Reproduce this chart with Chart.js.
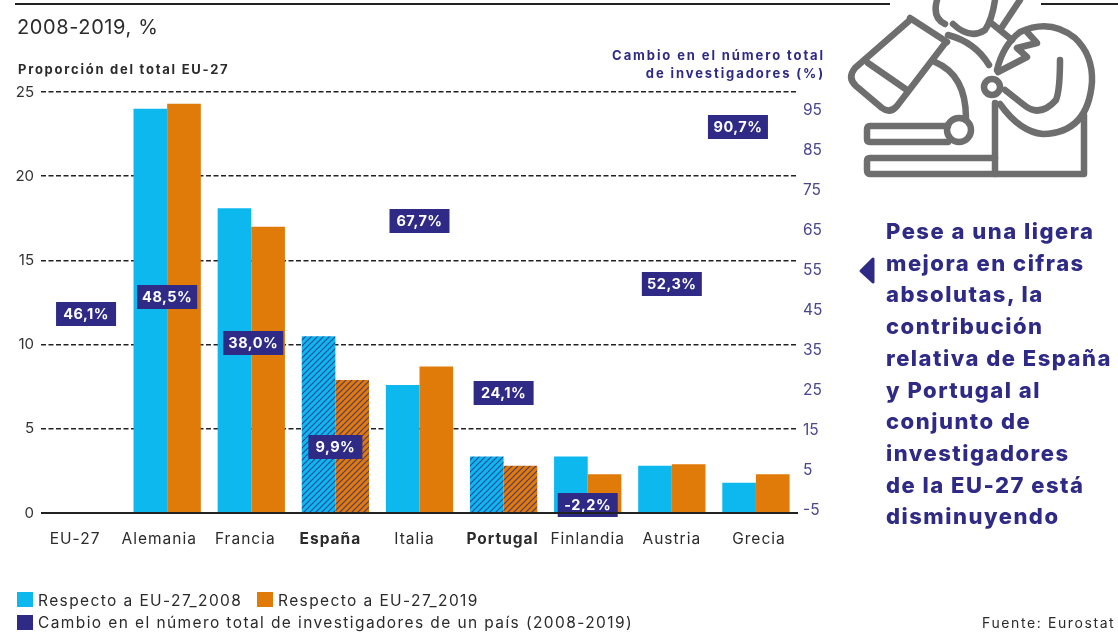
<!DOCTYPE html>
<html lang="es">
<head>
<meta charset="utf-8">
<title>Investigadores EU-27</title>
<script src="https://cdn.jsdelivr.net/npm/chart.js"></script>
<style>
  html, body { margin: 0; padding: 0; background: #fff; }
  body { width: 1118px; height: 633px; position: relative; overflow: hidden; font-family: Inter, sans-serif; color: #2b2b2b; }
  #researchChart { position: absolute; left: 0; top: 0; }
  .txt { position: absolute; white-space: nowrap; }
  .rule { position: absolute; top: 3px; height: 2px; background: #222; }
  .swatch { position: absolute; width: 16px; height: 15px; }
  .legend-txt { font-size: 15.5px; letter-spacing: 1.4px; line-height: 18px; }
  #headline { left: 886px; top: 216px; font-size: 22px; font-weight: 800; line-height: 31.7px; color: #2e2a86; letter-spacing: 1.5px; }
  #rightTitle { right: 293px; top: 46px; text-align: right; font-size: 13px; font-weight: 700; line-height: 18px; color: #2e2a86; letter-spacing: 1.9px; }
</style>
</head>
<body>
<canvas id="researchChart" width="1118" height="633"></canvas>

<div class="rule" style="left:15px;width:875px"></div>
<div class="rule" style="left:1041px;width:77px"></div>
<div class="txt" style="left:17px;top:15px;font-size:20px;letter-spacing:0.6px">2008-2019, %</div>
<div class="txt" style="left:18px;top:61px;font-size:13px;font-weight:700;letter-spacing:1.75px">Proporción del total EU-27</div>
<div class="txt" id="rightTitle">Cambio en el número total<br>de investigadores (%)</div>

<svg style="position:absolute;left:840px;top:0" width="278" height="190" viewBox="840 0 278 190" fill="none" stroke="#6e6e6e" stroke-width="6.5" stroke-linejoin="round" stroke-linecap="round">
  <path d="M910 20 L855 68 Q847 78 856 86 L882 108 Q890 114 897 106 L946 42"/>
  <path d="M868 63 L907 90"/>
  <path d="M910 18 L947 42"/>
  <path d="M937 0 Q932 18 945 24 M953 24 Q970 40 985 30 Q992 20 995 0"/>
  <path d="M990 22 L1012 40 M1000 30 L1020 0"/>
  <path d="M948 35 Q975 42 989 65"/>
  <path d="M997 70 Q1003 45 1020 32 Q1050 18 1075 38 Q1093 55 1092 82 Q1088 133 1043 134 Q1020 132 1000 104"/>
  <path d="M998 72 L1027 57 L1017 48 L1037 43 L1027 32"/>
  <path d="M1005 90 L1024 105 Q1040 118 1056 100 Q1060 90 1060 60"/>
  <circle cx="992" cy="87" r="8"/>
  <path d="M935 62 Q966 75 966 118"/>
  <circle cx="959" cy="130" r="12"/>
  <path d="M948 126 L870 126 Q867 126 867 130 L867 139 Q867 142 870 142 L948 142"/>
  <path d="M995 103 L995 174"/>
  <path d="M1084 115 L1084 174 L870 174 Q867 174 867 170 L867 161 Q867 158 870 158 L995 158"/>
</svg>

<svg style="position:absolute;left:858px;top:256px" width="20" height="30">
  <path d="M3 15 L15 3 L15 26 Z" fill="#2e2a86" stroke="#2e2a86" stroke-width="3" stroke-linejoin="round"/>
</svg>
<div class="txt" id="headline">Pese a una ligera<br>mejora en cifras<br>absolutas, la<br>contribución<br>relativa de España<br>y Portugal al<br>conjunto de<br>investigadores<br>de la EU-27 está<br>disminuyendo</div>

<div class="swatch" style="left:17px;top:592px;background:#0cb8ee"></div>
<div class="txt legend-txt" style="left:38px;top:592px">Respecto a EU-27_2008</div>
<div class="swatch" style="left:257px;top:592px;background:#e07a08"></div>
<div class="txt legend-txt" style="left:278px;top:592px">Respecto a EU-27_2019</div>
<div class="swatch" style="left:17px;top:615px;background:#2e2a86"></div>
<div class="txt legend-txt" style="left:38px;top:614px">Cambio en el número total de investigadores de un país (2008-2019)</div>
<div class="txt" style="left:982px;top:614px;font-size:14px;letter-spacing:1.6px">Fuente: Eurostat</div>

<script>
// Datos
const categories = ['EU-27', 'Alemania', 'Francia', 'España', 'Italia', 'Portugal', 'Finlandia', 'Austria', 'Grecia'];
const share2008 = [null, 24.0, 18.1, 10.5, 7.6, 3.35, 3.35, 2.8, 1.8];
const share2019 = [null, 24.3, 17.0, 7.9, 8.7, 2.8, 2.3, 2.9, 2.3];
const changeLabels = ['46,1%', '48,5%', '38,0%', '9,9%', '67,7%', '24,1%', '-2,2%', '52,3%', '90,7%'];
// height of each label on the right axis, as placed in the picture
const changeHeights = [44, 48.25, 36.75, 10.75, 67.25, 24.25, -3.75, 51.5, 90.75];
const leftTicks = [0, 5, 10, 15, 20, 25];
const rightTicks = [-5, 5, 15, 25, 35, 45, 55, 65, 75, 85, 95];
const boldCategories = ['España', 'Portugal'];

const CYAN = '#0cb8ee';
const ORANGE = '#e07a08';
const NAVY = '#2e2a86';
const FONT = 'Inter, sans-serif';

// Nudges in px, the source artwork is not aligned to its bars
const labelNudge = { 'EU-27': -8, 'Alemania': -8, 'Francia': -6, 'España': -5, 'Italia': -5, 'Portugal': -1, 'Grecia': 3 };
const boxNudge = { 'EU-27': 3, 'Francia': 2, 'Grecia': -18 };

// Diagonal hatch for the highlighted countries
function hatch(base) {
  const c = document.createElement('canvas');
  c.width = 6;
  c.height = 6;
  const p = c.getContext('2d');
  p.fillStyle = base;
  p.fillRect(0, 0, 6, 6);
  p.strokeStyle = NAVY;
  p.lineWidth = 1.2;
  p.globalAlpha = 0.8;
  p.beginPath();
  p.moveTo(-1, 1); p.lineTo(1, -1);
  p.moveTo(-1, 7); p.lineTo(7, -1);
  p.moveTo(5, 7); p.lineTo(7, 5);
  p.stroke();
  return document.createElement('canvas').getContext('2d').createPattern(c, 'repeat');
}
const cyanHatch = hatch(CYAN);
const orangeHatch = hatch(ORANGE);

function barColor(plain, hatched) {
  return ctx => boldCategories.includes(categories[ctx.dataIndex]) ? hatched : plain;
}

// Draws the navy labelled boxes at the points of the change dataset
const changeBoxes = {
  id: 'changeBoxes',
  afterDatasetsDraw(chart) {
    const { ctx } = chart;
    const points = chart.getDatasetMeta(2).data;
    ctx.save();
    ctx.font = '700 14.5px ' + FONT;
    ctx.letterSpacing = '0.5px';
    ctx.textAlign = 'center';
    ctx.textBaseline = 'middle';
    points.forEach((pt, i) => {
      const label = changeLabels[i];
      const x = pt.x + (boxNudge[categories[i]] || 0);
      const w = label.length > 4 ? 60 : 54;
      ctx.fillStyle = NAVY;
      ctx.fillRect(x - w / 2, pt.y - 12, w, 24);
      ctx.fillStyle = '#fff';
      ctx.fillText(label, x, pt.y + 0.5);
    });
    ctx.restore();
  }
};

// Category names, drawn here because each one needs its own nudge
const categoryLabels = {
  id: 'categoryLabels',
  afterDraw(chart) {
    const { ctx, scales } = chart;
    ctx.save();
    ctx.textAlign = 'center';
    ctx.textBaseline = 'middle';
    ctx.letterSpacing = '1px';
    ctx.fillStyle = '#2b2b2b';
    categories.forEach((name, i) => {
      const bold = boldCategories.includes(name);
      ctx.font = (bold ? '700 ' : '400 ') + '15.5px ' + FONT;
      ctx.fillText(name, scales.x.getPixelForTick(i) + (labelNudge[name] || 0), 539);
    });
    ctx.restore();
  }
};

// solid baseline over the dashed zero line
const baseline = {
  id: 'baseline',
  afterDatasetsDraw(chart) {
    const { ctx, chartArea, scales } = chart;
    const y = scales.y.getPixelForValue(0);
    ctx.save();
    ctx.strokeStyle = '#222';
    ctx.lineWidth = 2;
    ctx.beginPath();
    ctx.moveTo(chartArea.left, y);
    ctx.lineTo(chartArea.right, y);
    ctx.stroke();
    ctx.restore();
  }
};

new Chart(document.getElementById('researchChart'), {
  data: {
    labels: categories,
    datasets: [
      { type: 'bar', label: 'Respecto a EU-27_2008', data: share2008, yAxisID: 'y', backgroundColor: barColor(CYAN, cyanHatch) },
      { type: 'bar', label: 'Respecto a EU-27_2019', data: share2019, yAxisID: 'y', backgroundColor: barColor(ORANGE, orangeHatch) },
      { type: 'line', label: 'Cambio en el número total de investigadores de un país (2008-2019)', data: changeHeights, yAxisID: 'y2', showLine: false, pointRadius: 0 }
    ]
  },
  options: {
    responsive: false,
    animation: false,
    layout: { padding: { top: 92 } },
    barPercentage: 1,
    categoryPercentage: 0.8,
    plugins: { legend: { display: false }, tooltip: { enabled: false } },
    scales: {
      x: {
        afterFit: s => { s.height = 120; },
        grid: { display: false },
        border: { display: false },
        ticks: { display: false, autoSkip: false, maxRotation: 0 }
      },
      y: {
        position: 'left',
        min: 0,
        max: 25,
        afterFit: s => { s.width = 41; },
        afterBuildTicks: s => { s.ticks = leftTicks.map(v => ({ value: v })); },
        border: { display: false, dash: [5, 2.5] },
        grid: { color: '#222', lineWidth: 1.6, drawTicks: false },
        ticks: { padding: 7, color: '#333', font: { family: FONT, size: 15 } }
      },
      y2: {
        position: 'right',
        min: -5.75,
        max: 99.5,
        afterFit: s => { s.width = 320; },
        afterBuildTicks: s => { s.ticks = rightTicks.map(v => ({ value: v })); },
        border: { display: false },
        grid: { drawOnChartArea: false, drawTicks: false },
        ticks: { padding: 5, color: '#4a478f', font: { family: FONT, size: 15.5 } }
      }
    }
  },
  plugins: [changeBoxes, baseline, categoryLabels]
});
</script>
</body>
</html>
